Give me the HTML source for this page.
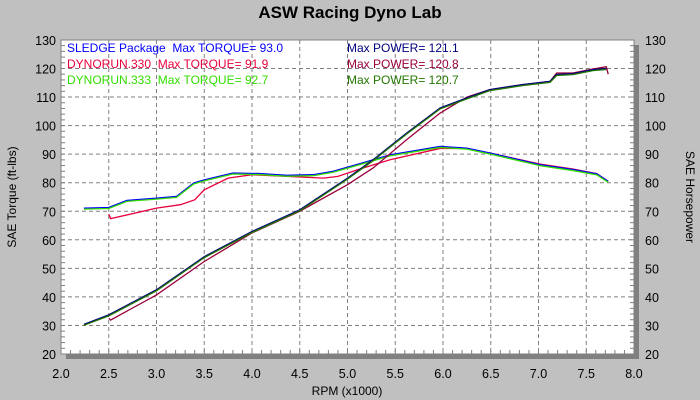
<!DOCTYPE html>
<html><head><meta charset="utf-8"><style>
body{margin:0;background:#c0c0c0;width:700px;height:400px;overflow:hidden;font-family:"Liberation Sans",sans-serif}
svg{display:block}
text{white-space:pre}
</style></head><body>
<svg id="chart" width="700" height="400" xmlns="http://www.w3.org/2000/svg">
<rect width="700" height="400" fill="#c0c0c0"/>
<text x="350" y="18" text-anchor="middle" font-size="17" font-weight="bold" fill="#000">ASW Racing Dyno Lab</text>
<rect x="66" y="45" width="573" height="314" fill="#808080"/>
<rect x="61" y="40" width="573" height="314" fill="#fff"/>
<g id="grid"></g><g id="series"></g>
<text x="347" y="395" text-anchor="middle" font-size="12">RPM (x1000)</text>
<text transform="translate(16,197) rotate(-90)" text-anchor="middle" font-size="12">SAE Torque (ft-lbs)</text>
<text transform="translate(686,197) rotate(90)" text-anchor="middle" font-size="12">SAE Horsepower</text>
<g font-size="12">
<text x="67" y="52" fill="#0000ff">SLEDGE Package  Max TORQUE= 93.0</text>
<text x="67" y="68" fill="#e8003c">DYNORUN.330  Max TORQUE= 91.9</text>
<text x="67" y="84" fill="#33dd00">DYNORUN.333  Max TORQUE= 92.7</text>
<text x="347" y="52" fill="#000080">Max POWER= 121.1</text>
<text x="347" y="68" fill="#99003c">Max POWER= 120.8</text>
<text x="347" y="84" fill="#227700">Max POWER= 120.7</text>
</g>
</svg>
<script>
const xTicks=[2.0,2.5,3.0,3.5,4.0,4.5,5.0,5.5,6.0,6.5,7.0,7.5,8.0];
const yTicks=[20,30,40,50,60,70,80,90,100,110,120,130];
const rpmBlueT=[2.24,2.5,2.69,3.0,3.21,3.39,3.5,3.8,4.08,4.36,4.64,4.85,5.13,5.45,5.97,6.25,6.49,7.02,7.36,7.61,7.73];
const blueTorque=[71.1,71.3,73.8,74.6,75.2,79.9,81,83.4,83.2,82.6,82.8,84,86.7,89.8,92.7,92.1,90.4,86.3,84.6,83.1,80.5];
const rpmRedT=[2.5,2.52,3.0,3.25,3.4,3.5,3.75,4.0,4.5,4.75,4.9,5.13,5.45,5.97,6.25,6.49,7.02,7.36,7.61,7.73];
const redTorque=[69,67.4,71.1,72.3,74,77.5,81.6,82.8,82,81.6,82.2,84.8,88.1,92,92,90.4,86.5,84.8,83.2,80.5];
const rpmBlueP=[2.24,2.5,3.0,3.5,4.0,4.5,5.0,5.27,5.62,5.97,6.25,6.49,6.84,7.12,7.19,7.36,7.57,7.71];
const bluePower=[30.4,33.7,42.5,54.1,62.9,70.5,81.6,88.1,97.4,106.2,109.7,112.6,114.4,115.5,117.9,118.2,119.6,120];
const rpmRedP=[2.5,2.52,3.0,3.5,4.0,4.5,5.0,5.27,5.62,5.97,6.25,6.49,6.84,7.12,7.19,7.36,7.57,7.71,7.73];
const redPower=[32.5,31.9,40.7,52.4,62.4,70,79.3,85.2,95.1,104.4,110,112.6,114.4,115.5,118.4,118.4,119.8,120.6,118];
const NS="http://www.w3.org/2000/svg";
const X=r=>61+(r-2)*95.5, Y=v=>354-(v-20)*2.855;
const g=document.getElementById('grid'), s=document.getElementById('series');
function mk(p,tag,a){const e=document.createElementNS(NS,tag);for(const k in a)e.setAttribute(k,a[k]);p.appendChild(e);return e;}
xTicks.forEach(t=>{
 if(t>2&&t<8){const l=mk(g,'line',{x1:X(t),x2:X(t),y1:40,y2:354,stroke:'#808080','stroke-dasharray':'4,3'});
 
 }
 const tx=mk(g,'text',{x:X(t),y:378,'text-anchor':'middle','font-size':12.5});tx.textContent=t.toFixed(1);
 
 
});
for(let r=2.1;r<8;r+=0.1){mk(g,'line',{x1:X(r),x2:X(r),y1:350,y2:354,stroke:'#808080'});}
yTicks.forEach(t=>{
 if(t>20&&t<130){const l=mk(g,'line',{x1:61,x2:634,y1:Y(t),y2:Y(t),stroke:'#808080','stroke-dasharray':'4,3'});
 
 }
 const a=mk(g,'text',{x:56,y:Y(t)+5,'text-anchor':'end','font-size':12.5});a.textContent=t;
 
 
 const b=mk(g,'text',{x:645,y:Y(t)+5,'font-size':12.5});b.textContent=t;
 
 
});
for(let v=22;v<130;v+=2){mk(g,'line',{x1:61,x2:65,y1:Y(v),y2:Y(v),stroke:'#808080'});mk(g,'line',{x1:630,x2:634,y1:Y(v),y2:Y(v),stroke:'#808080'});}
mk(g,'rect',{x:61,y:40,width:573,height:314,fill:'none',stroke:'#808080'});
function line(rs,vs,col,name,dx,dy){
 const p=mk(s,'polyline',{points:rs.map((r,i)=>(X(r)+dx)+','+(Y(vs[i])+dy)).join(' '),fill:'none',stroke:col,'stroke-width':1.3});
 
 
}
line(rpmRedT,redTorque,'#e8003c','torque-330',0,0);
line(rpmBlueT,blueTorque,'#0000ff','torque-sledge',0,0);
line(rpmBlueT,blueTorque,'#33dd00','torque-333',0,1);
line(rpmRedP,redPower,'#99003c','power-330',0,0);
line(rpmBlueP,bluePower,'#000080','power-sledge',0,0);
line(rpmBlueP,bluePower,'#227700','power-333',0,1);
</script>
</body></html>
